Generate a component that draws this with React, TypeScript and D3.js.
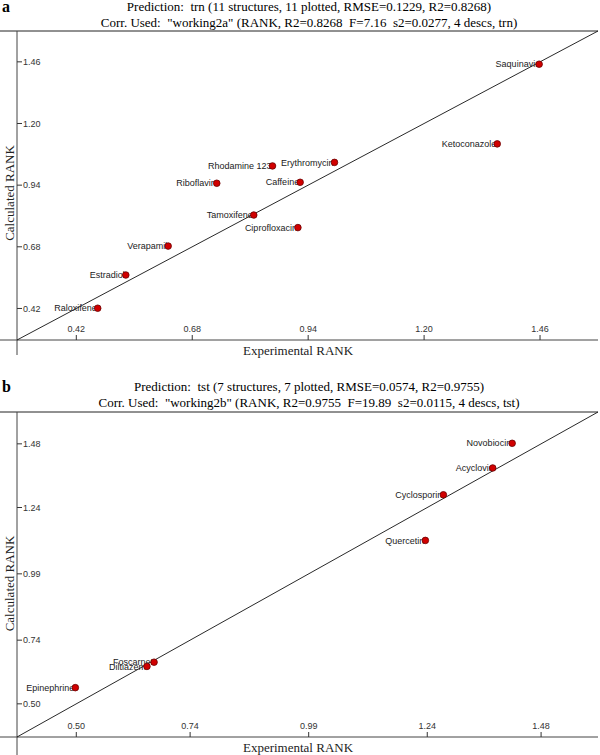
import React from "react";
import * as d3 from "d3";

// ---- Panel a data ----
const namesA = ["Raloxifene", "Estradiol", "Verapamil", "Riboflavin", "Rhodamine 123", "Tamoxifene", "Ciprofloxacin", "Caffeine", "Erythromycin", "Ketoconazole", "Saquinavir"];
const expA = [0.468, 0.531, 0.626, 0.735, 0.860, 0.818, 0.917, 0.922, 0.999, 1.364, 1.458];
const calcA = [0.421, 0.561, 0.683, 0.948, 1.021, 0.814, 0.761, 0.952, 1.036, 1.114, 1.450];
const ticksA = [0.42, 0.68, 0.94, 1.2, 1.46];
const domainA: [number, number] = [0.287, 1.59];
const titleA1 = "Prediction:  trn (11 structures, 11 plotted, RMSE=0.1229, R2=0.8268)";
const titleA2 = "Corr. Used:  \"working2a\" (RANK, R2=0.8268  F=7.16  s2=0.0277, 4 descs, trn)";

// ---- Panel b data ----
const namesB = ["Epinephrine", "Diltiazem", "Foscarnet", "Quercetin", "Cyclosporin", "Acyclovir", "Novobiocin"];
const expB = [0.498, 0.649, 0.664, 1.236, 1.274, 1.378, 1.419];
const calcB = [0.561, 0.641, 0.657, 1.116, 1.288, 1.389, 1.482];
const ticksB = [0.5, 0.74, 0.99, 1.24, 1.48];
const domainB: [number, number] = [0.375, 1.6];
const titleB1 = "Prediction:  tst (7 structures, 7 plotted, RMSE=0.0574, R2=0.9755)";
const titleB2 = "Corr. Used:  \"working2b\" (RANK, R2=0.9755  F=19.89  s2=0.0115, 4 descs, tst)";

const xAxisTitle = "Experimental RANK";
const yAxisTitle = "Calculated RANK";

const SERIF = "'Liberation Serif', 'Times New Roman', serif";
const SANS = "'Liberation Sans', Arial, sans-serif";

type PanelProps = {
  letter: string;
  t1: string;
  t2: string;
  names: string[];
  xs: number[];
  ys: number[];
  ticks: number[];
  domain: [number, number];
  top: number;
  bottom: number;
  axisEnd: number;
  off: number;
};

function Panel(p: PanelProps) {
  const left = 17;
  const right = 598;
  const x = d3.scaleLinear().domain(p.domain).range([left, right]);
  const y = d3.scaleLinear().domain(p.domain).range([p.bottom, p.top]);
  const cx = 309;
  return (
    <g>
      <text x={2} y={p.off + 12} fontFamily={SERIF} fontWeight="bold" fontSize={16}>{p.letter}</text>
      <text x={cx} y={p.off + 11} textAnchor="middle" fontFamily={SERIF} fontSize={13} style={{ whiteSpace: "pre" }}>{p.t1}</text>
      <text x={cx} y={p.off + 27} textAnchor="middle" fontFamily={SERIF} fontSize={13} style={{ whiteSpace: "pre" }}>{p.t2}</text>
      <line x1={0} x2={right} y1={p.top} y2={p.top} stroke="#222" strokeWidth={1} />
      <line x1={0} x2={right} y1={p.bottom} y2={p.bottom} stroke="#444" strokeWidth={1} />
      <line x1={left} x2={left} y1={p.top} y2={p.axisEnd} stroke="#444" strokeWidth={1} />
      <line x1={x(p.domain[0])} y1={y(p.domain[0])} x2={x(p.domain[1])} y2={y(p.domain[1])} stroke="#111" strokeWidth={0.9} />
      {p.ticks.map((t, i) => (
        <g key={"xt" + i}>
          <line x1={x(t)} x2={x(t)} y1={p.bottom} y2={p.bottom - 5} stroke="#333" />
          <text x={x(t)} y={p.bottom - 8} textAnchor="middle" fontFamily={SANS} fontSize={9} fill="#333">{t.toFixed(2)}</text>
        </g>
      ))}
      {p.ticks.map((t, i) => (
        <g key={"yt" + i}>
          <line x1={left} x2={left + 5} y1={y(t)} y2={y(t)} stroke="#333" />
          <text x={left + 6} y={y(t)} dy="0.35em" textAnchor="start" fontFamily={SANS} fontSize={9} fill="#333">{t.toFixed(2)}</text>
        </g>
      ))}
      <text x={298} y={p.bottom + 15} textAnchor="middle" fontFamily={SERIF} fontSize={13} fill="#222">{xAxisTitle}</text>
      <text transform={`translate(14,${(p.top + p.axisEnd) / 2}) rotate(-90)`} textAnchor="middle" fontFamily={SERIF} fontSize={13} fill="#222">{yAxisTitle}</text>
      {p.names.map((n, i) => (
        <text key={"l" + i} x={x(p.xs[i]) - 1} y={y(p.ys[i])} dy="0.35em" textAnchor="end" fontFamily={SANS} fontSize={9} fill="#222">{n}</text>
      ))}
      {p.names.map((n, i) => (
        <circle key={"c" + i} cx={x(p.xs[i])} cy={y(p.ys[i])} r={3.3} fill="#d10000" stroke="#6a0000" strokeWidth={0.8} />
      ))}
    </g>
  );
}

export default function App() {
  return (
    <svg width={600} height={755} style={{ position: "absolute", left: 0, top: 0, background: "#fff" }}>
      <rect width={600} height={755} fill="#fff" />
      <Panel letter="a" t1={titleA1} t2={titleA2} names={namesA} xs={expA} ys={calcA} ticks={ticksA} domain={domainA}
        top={31} bottom={340} axisEnd={355} off={0} />
      <Panel letter="b" t1={titleB1} t2={titleB2} names={namesB} xs={expB} ys={calcB} ticks={ticksB} domain={domainB}
        top={412} bottom={737} axisEnd={755} off={380} />
    </svg>
  );
}
